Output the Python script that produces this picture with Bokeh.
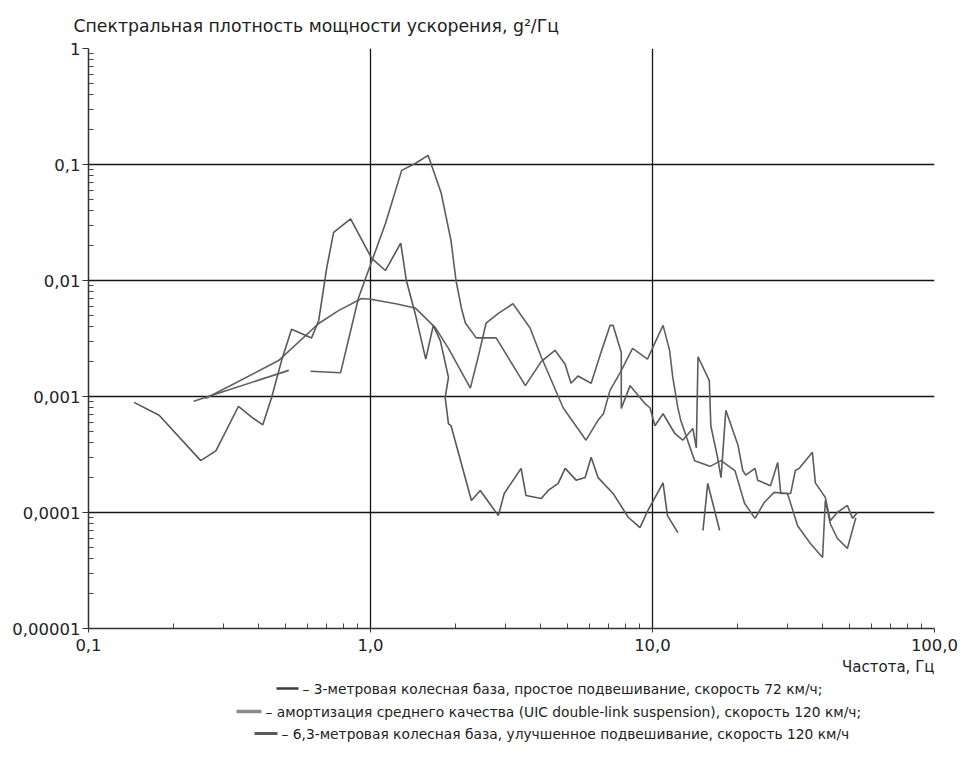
from bokeh.plotting import figure
from bokeh.models import Range1d, FixedTicker, Title
from bokeh.layouts import column
from bokeh.core.properties import value
from bokeh.embed import file_html
from bokeh.resources import INLINE

nan = float("nan")

# --- data ---
freq_a = [0.145, 0.178, 0.25, 0.283, 0.34, 0.38, 0.415, 0.446, 0.484, 0.525, 0.618, 0.655, 0.70, 0.74, 0.85,
          1.01, 1.13, 1.28, 1.34, 1.44, 1.57, 1.67, 1.77, 1.89, 1.84, 1.89, 1.93, 2.28, 2.45, 2.84, 2.98, 3.42,
          3.56, 4.03, 4.27, 4.63, 4.90, 5.36, 5.77, 6.06, 6.41, 7.25, 8.2, 9.03, 9.63, 10.9, 11.3, 12.3, nan,
          15.1, 15.7, 17.3]
psd_a = [0.00089, 0.00069, 0.00028, 0.00034, 0.00082, 0.00066, 0.00057, 0.00098, 0.00205, 0.0038, 0.0032,
         0.0045, 0.013, 0.026, 0.034, 0.0155, 0.0122, 0.021, 0.010, 0.0052, 0.0021, 0.0041, 0.0030, 0.00146,
         0.00098, 0.00058, 0.00056, 0.000127, 0.000155, 0.000094, 0.000146, 0.00024, 0.00014, 0.000132,
         0.000155, 0.000178, 0.00024, 0.00019, 0.0002, 0.0003, 0.0002, 0.000146, 0.000091, 0.000074, 0.000104,
         0.00018, 0.000094, 0.000067, nan, 0.00007, 0.000178, 0.00007]

freq_b = [0.236, 0.513, nan, 0.613, 0.783, 0.907, 1.13, 1.29, 1.44, 1.60, 1.78, 1.93, 2.01, 2.10, 2.17, 2.37,
          2.79, 3.54, 4.03, 4.51, 4.90, 5.14, 5.44, 6.06, 6.53, 7.07, 7.25, 7.75, 7.75, 8.33, 9.4, 9.8, 10.2,
          10.9, 12.0, 12.8, 13.9, 14.3, 14.5, 15.9, 16.1, 17.0, 17.5, 18.2, 20.1, 20.9, 21.4, 23.1, 23.6, 26.2,
          27.8, 28.5, 30.9, 32.1, 33.1, 36.9, 37.8, 41.0, 42.7, 45.2, 49.1, 51.2, 53.3]
psd_b = [0.00091, 0.00168, nan, 0.00165, 0.0016, 0.0071, 0.031, 0.089, 0.102, 0.12, 0.057, 0.022, 0.010,
         0.0058, 0.0043, 0.0032, 0.0032, 0.00124, 0.0020, 0.0025, 0.0019, 0.0013, 0.0015, 0.0013, 0.0023,
         0.0041, 0.0041, 0.0024, 0.00079, 0.00124, 0.00087, 0.0008, 0.00056, 0.00071, 0.00048, 0.00042,
         0.00053, 0.00036, 0.0022, 0.00137, 0.00056, 0.0003, 0.0002, 0.00076, 0.00038, 0.00023, 0.00021,
         0.00024, 0.00019, 0.00017, 0.00027, 0.000146, 0.000146, 0.00023, 0.00024, 0.00033, 0.00018,
         0.000135, 0.000085, 0.0001, 0.000115, 0.000089, 0.0001]

freq_c = [0.26, 0.472, 0.655, 0.77, 0.93, 1.0, 1.23, 1.44, 1.70, 1.89, 2.26, 2.41, 2.57, 2.84, 3.2, 3.68, 4.03,
          4.82, 5.81, 6.4, 6.7, 7.07, 7.67, 8.5, 9.6, 10.2, 10.9, 11.5, 11.8, 12.3, 12.6, 14.1, 16.0, 17.5,
          19.6, 21.2, 23.1, 24.9, 27.0, 30.1, 32.7, 36.3, 40.1, 41.0, 42.7, 45.2, 49.1, 52.6]
psd_c = [0.00096, 0.00204, 0.00426, 0.0055, 0.0070, 0.0069, 0.0063, 0.0058, 0.0039, 0.0026, 0.00118, 0.0022,
         0.0043, 0.0052, 0.0063, 0.0039, 0.0022, 0.0008, 0.00042, 0.00062, 0.00071, 0.00113, 0.0016, 0.0026,
         0.0021, 0.0029, 0.0041, 0.0025, 0.00146, 0.0008, 0.00062, 0.00028, 0.00025, 0.00028, 0.00023,
         0.00012, 0.000089, 0.000122, 0.000149, 0.000146, 0.000077, 0.000054, 0.000041, 0.000127, 0.00008,
         0.00006, 0.000049, 0.00009]

x_ticks = [0.1, 1.0, 10.0, 100.0]
x_tick_labels = ["0,1", "1,0", "10,0", "100,0"]
y_ticks = [0.00001, 0.0001, 0.001, 0.01, 0.1, 1.0]
y_tick_labels = ["0,00001", "0,0001", "0,001", "0,01", "0,1", "1"]

title_text = "Спектральная плотность мощности ускорения, g²/Гц"
x_label_text = "Частота, Гц"
legend_texts = [
    "– 3-метровая колесная база, простое подвешивание, скорость 72 км/ч;",
    "– амортизация среднего качества (UIC double-link suspension), скорость 120 км/ч;",
    "– 6,3-метровая колесная база, улучшенное подвешивание, скорость 120 км/ч",
]

FONT = "DejaVu Sans"
W = 960
FL, FR, FT, FB = 88, 934, 48, 628   # frame edges in page pixels
H_MAIN = 678
H_LEG = 77

p = figure(width=W, height=H_MAIN, x_axis_type="log", y_axis_type="log",
           x_range=Range1d(0.1, 100), y_range=Range1d(0.00001, 1),
           output_backend="svg", toolbar_location=None,
           min_border_left=FL, min_border_right=W - FR, min_border_top=FT,
           min_border_bottom=H_MAIN - FB)
p.outline_line_color = None
p.background_fill_color = "white"

p.title.text = title_text
p.title.align = "left"
p.title.offset = -15
p.title.standoff = 25
p.title.text_font = FONT
p.title.text_font_size = "17.3px"
p.title.text_font_style = "normal"
p.title.text_color = "#222222"

x_minor = [m * 10.0 ** e for e in range(-1, 2) for m in range(2, 10)]
y_minor = [m * 10.0 ** e for e in range(-5, 0) for m in range(2, 10)]
p.xaxis.ticker = FixedTicker(ticks=x_ticks, minor_ticks=x_minor)
p.yaxis.ticker = FixedTicker(ticks=y_ticks, minor_ticks=y_minor)
p.xaxis.major_label_overrides = {t: l for t, l in zip(x_ticks, x_tick_labels)}
p.yaxis.major_label_overrides = {t: l for t, l in zip(y_ticks, y_tick_labels)}

for ax in (p.xaxis, p.yaxis):
    ax.axis_line_color = "#333333"
    ax.axis_line_width = 1.5
    ax.major_tick_line_color = "#333333"
    ax.minor_tick_line_color = "#444444"
    ax.major_label_text_font = FONT
    ax.major_label_text_font_size = "16.5px"
    ax.major_label_text_color = "#222222"
p.yaxis.major_tick_in = 0
p.yaxis.major_tick_out = 6
p.yaxis.minor_tick_in = 5
p.yaxis.minor_tick_out = 0
p.yaxis.major_label_standoff = 2
p.xaxis.major_tick_in = 0
p.xaxis.major_tick_out = 4
p.xaxis.minor_tick_in = 5
p.xaxis.minor_tick_out = 0
p.xaxis.major_label_standoff = 6

p.add_layout(Title(text=x_label_text, align="right", standoff=4, text_font=FONT,
                   text_font_size="15px", text_font_style="normal", text_color="#222222"), "below")

p.xgrid.ticker = FixedTicker(ticks=[1.0, 10.0])
p.ygrid.ticker = FixedTicker(ticks=[0.0001, 0.001, 0.01, 0.1, 1.0])
for g in (p.xgrid, p.ygrid):
    g.grid_line_color = "#151515"
    g.grid_line_width = 1.3

p.line(freq_c, psd_c, line_color="#606060", line_width=1.6)
p.line(freq_a, psd_a, line_color="#585858", line_width=1.6)
p.line(freq_b, psd_b, line_color="#5c5c5c", line_width=1.6)

# legend strip: data coordinates equal page pixels
lg = figure(width=W, height=H_LEG, x_range=Range1d(FL, FR), y_range=Range1d(H_MAIN + H_LEG, H_MAIN),
            output_backend="svg", toolbar_location=None,
            min_border_left=FL, min_border_right=W - FR, min_border_top=0, min_border_bottom=0,
            x_axis_location=None, y_axis_location=None)
lg.outline_line_color = None
lg.xgrid.visible = False
lg.ygrid.visible = False
rows_y = [688, 711, 733]
sample_x0 = [276, 236, 254]
sample_x1 = [298, 261, 277]
text_x = [302, 265, 281]
sample_col = ["#3c3c3c", "#8a8a8a", "#5a5a5a"]
sample_w = [2.5, 3.5, 3.0]
for i in range(3):
    lg.segment(x0=[sample_x0[i]], y0=[rows_y[i]], x1=[sample_x1[i]], y1=[rows_y[i]],
               line_color=sample_col[i], line_width=sample_w[i])
lg.text(x=text_x, y=rows_y, text=legend_texts, text_font=value(FONT), text_font_size="13.8px",
        text_color="#222222", text_baseline="middle", text_align="left")

layout = column(p, lg, spacing=0)
open("out.html", "w").write(file_html(layout, INLINE))
